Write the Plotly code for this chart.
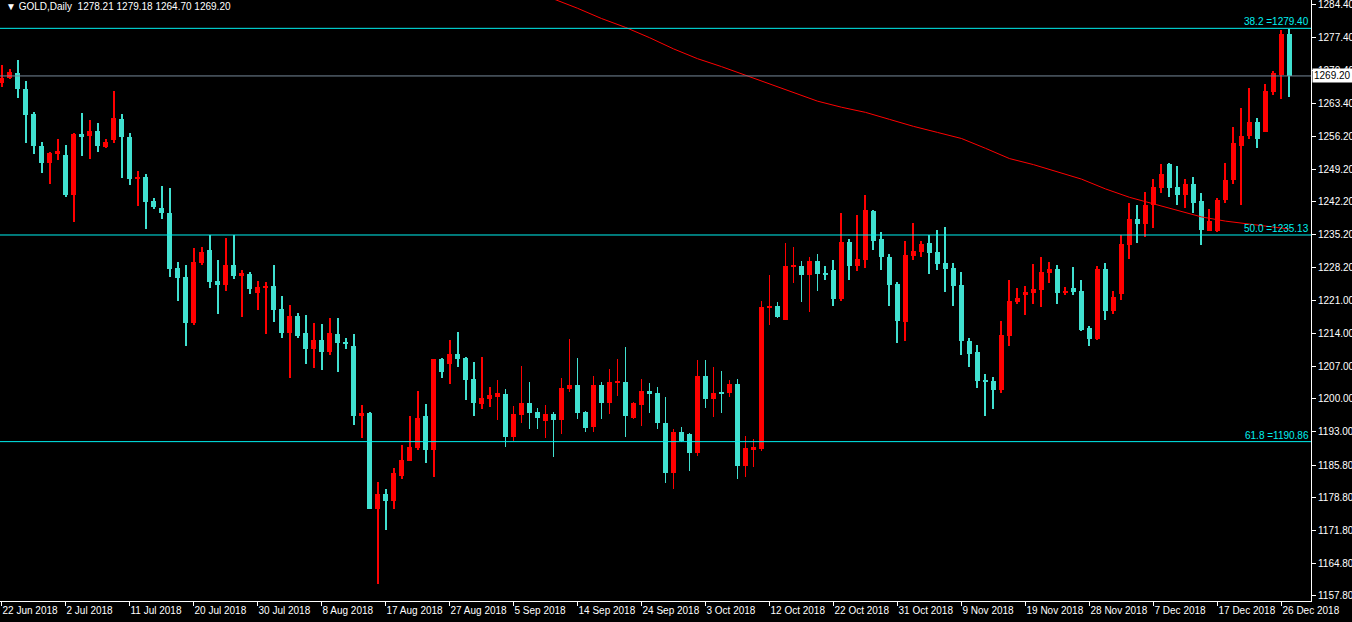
import pandas as pd
import plotly.graph_objects as go

# ---------------- data ----------------
opens = [1267.63, 1268.78, 1269.84, 1266.41, 1261.10, 1254.24, 1250.48, 1252.44, 1252.36, 1243.70,
         1256.69, 1256.28, 1257.51, 1254.07, 1255.46, 1260.04, 1256.20, 1247.13, 1247.62, 1242.31,
         1240.92, 1239.94, 1228.02, 1226.06, 1216.20, 1229.16, 1231.86, 1225.24, 1224.51, 1228.67,
         1226.39, 1226.71, 1222.79, 1223.77, 1224.18, 1219.28, 1214.05, 1217.81, 1214.13, 1210.62,
         1212.66, 1209.97, 1213.97, 1212.25, 1211.36, 1196.33, 1196.90, 1176.48, 1179.58, 1178.11,
         1183.51, 1186.69, 1189.47, 1196.25, 1189.06, 1208.58, 1207.44, 1209.64, 1208.82, 1204.33,
         1199.02, 1200.08, 1200.49, 1201.15, 1191.75, 1196.65, 1199.19, 1197.31, 1195.35, 1196.82,
         1195.59, 1202.21, 1203.03, 1197.31, 1194.04, 1203.03, 1199.19, 1203.51, 1203.68, 1196.00,
         1198.78, 1201.80, 1201.31, 1194.94, 1184.16, 1192.90, 1192.57, 1188.47, 1204.99, 1199.92,
         1201.31, 1201.31, 1203.27, 1185.63, 1189.22, 1189.39, 1219.52, 1219.93, 1216.99, 1228.40,
         1228.43, 1226.63, 1229.49, 1226.96, 1227.61, 1221.49, 1233.58, 1228.43, 1229.73, 1240.19,
         1234.23, 1230.39, 1224.59, 1216.58, 1230.63, 1231.45, 1233.33, 1231.45, 1229.08, 1228.02,
         1224.43, 1212.34, 1210.05, 1204.09, 1203.92, 1201.96, 1213.56, 1220.83, 1222.30, 1222.71,
         1223.36, 1226.96, 1227.77, 1222.71, 1223.77, 1223.12, 1215.20, 1212.91, 1227.77, 1218.87,
         1222.47, 1232.92, 1238.47, 1237.41, 1241.66, 1245.09, 1250.40, 1245.34, 1243.62, 1246.15,
         1242.31, 1235.94, 1235.94, 1242.56, 1246.81, 1254.24, 1256.28, 1259.38, 1257.26, 1265.76,
         1269.35, 1278.21]
highs = [1271.55, 1270.74, 1272.62, 1268.12, 1261.51, 1255.14, 1253.01, 1255.79, 1254.40, 1257.02,
         1261.35, 1259.79, 1259.22, 1255.79, 1266.00, 1261.10, 1257.02, 1248.77, 1248.28, 1242.97,
         1245.66, 1245.09, 1229.33, 1228.67, 1232.27, 1232.51, 1235.04, 1229.73, 1234.39, 1235.21,
         1227.61, 1227.20, 1225.24, 1225.00, 1228.67, 1222.06, 1220.10, 1218.38, 1217.97, 1216.26,
         1216.09, 1217.32, 1217.32, 1213.07, 1213.97, 1198.78, 1197.14, 1182.12, 1180.65, 1185.14,
         1190.04, 1196.41, 1201.80, 1199.02, 1208.58, 1208.70, 1212.66, 1214.38, 1208.99, 1207.93,
         1208.99, 1202.62, 1204.09, 1202.21, 1198.53, 1207.11, 1203.68, 1198.12, 1198.78, 1197.31,
         1204.58, 1212.83, 1208.82, 1197.40, 1204.99, 1203.68, 1206.46, 1208.58, 1211.19, 1199.43,
         1204.33, 1203.43, 1202.62, 1200.49, 1193.63, 1194.04, 1192.70, 1208.42, 1208.42, 1206.86,
         1206.05, 1204.09, 1204.33, 1192.16, 1191.51, 1220.99, 1226.55, 1220.75, 1233.33, 1232.51,
         1229.65, 1230.39, 1231.04, 1228.43, 1229.73, 1239.94, 1234.23, 1239.45, 1243.62, 1240.43,
         1235.70, 1231.04, 1225.00, 1233.82, 1237.66, 1233.82, 1235.04, 1236.11, 1236.76, 1229.08,
         1227.20, 1213.15, 1211.60, 1205.39, 1204.74, 1216.75, 1225.49, 1223.77, 1224.18, 1228.84,
         1230.39, 1229.33, 1228.67, 1223.94, 1228.26, 1225.49, 1215.60, 1228.43, 1229.08, 1223.12,
         1235.04, 1242.07, 1241.66, 1244.44, 1247.05, 1250.24, 1250.64, 1249.83, 1247.05, 1247.46,
         1244.03, 1240.60, 1242.97, 1250.64, 1258.32, 1262.41, 1266.65, 1260.28, 1267.47, 1270.17,
         1279.07, 1279.18]
lows = [1266.82, 1268.45, 1264.37, 1254.81, 1252.44, 1248.36, 1245.99, 1251.30, 1243.37, 1237.90,
        1251.95, 1251.38, 1252.85, 1253.83, 1254.73, 1247.30, 1245.83, 1241.33, 1236.43, 1240.68,
        1238.47, 1226.06, 1221.08, 1211.44, 1215.77, 1228.75, 1223.85, 1218.30, 1223.20, 1225.73,
        1217.65, 1222.55, 1219.03, 1213.97, 1216.58, 1213.07, 1204.41, 1213.07, 1207.44, 1206.54,
        1206.29, 1209.32, 1205.72, 1210.62, 1194.37, 1191.59, 1176.48, 1160.31, 1171.99, 1176.48,
        1182.77, 1186.69, 1189.06, 1186.20, 1183.26, 1204.58, 1203.11, 1206.86, 1199.68, 1196.25,
        1197.80, 1198.21, 1195.59, 1189.71, 1190.93, 1194.94, 1193.47, 1193.63, 1191.59, 1187.67,
        1192.57, 1201.39, 1195.76, 1192.82, 1192.82, 1195.76, 1196.82, 1200.74, 1191.75, 1195.76,
        1194.29, 1197.06, 1193.63, 1181.95, 1180.65, 1190.69, 1184.49, 1187.75, 1198.04, 1196.08,
        1196.90, 1200.33, 1182.85, 1183.26, 1185.38, 1188.81, 1215.93, 1217.24, 1216.99, 1224.92,
        1220.67, 1218.71, 1223.20, 1225.49, 1220.02, 1220.99, 1225.49, 1227.37, 1228.02, 1231.86,
        1227.61, 1220.02, 1212.09, 1212.50, 1229.73, 1230.39, 1226.79, 1227.61, 1222.96, 1220.02,
        1209.32, 1206.78, 1202.45, 1196.41, 1197.80, 1201.31, 1211.44, 1220.34, 1217.97, 1220.34,
        1219.77, 1224.83, 1220.34, 1222.30, 1222.30, 1214.62, 1211.27, 1212.66, 1216.83, 1218.30,
        1221.24, 1229.98, 1233.33, 1234.64, 1236.60, 1244.03, 1243.37, 1241.66, 1241.01, 1239.94,
        1232.92, 1235.94, 1235.70, 1242.07, 1246.15, 1241.66, 1255.79, 1253.83, 1257.26, 1265.18,
        1264.28, 1264.70]
closes = [1268.86, 1270.08, 1266.33, 1260.94, 1254.16, 1250.48, 1252.60, 1253.18, 1243.70, 1256.85,
          1256.28, 1257.51, 1254.16, 1255.14, 1260.28, 1256.04, 1247.13, 1247.62, 1242.15, 1241.09,
          1239.86, 1227.86, 1225.98, 1216.20, 1229.33, 1231.45, 1225.08, 1224.51, 1228.67, 1226.39,
          1226.96, 1223.61, 1223.94, 1224.26, 1219.12, 1214.05, 1217.81, 1213.40, 1210.62, 1212.66,
          1209.97, 1214.13, 1212.09, 1211.68, 1196.33, 1196.90, 1176.48, 1179.58, 1178.11, 1184.24,
          1186.85, 1189.63, 1196.00, 1189.06, 1208.58, 1205.88, 1209.64, 1208.58, 1204.09, 1199.19,
          1200.25, 1200.90, 1201.23, 1191.75, 1196.82, 1199.19, 1197.06, 1196.00, 1196.82, 1195.59,
          1202.37, 1203.03, 1197.06, 1193.88, 1203.03, 1199.19, 1203.68, 1203.68, 1196.25, 1199.19,
          1201.80, 1201.15, 1194.78, 1184.16, 1192.90, 1191.10, 1188.47, 1204.99, 1199.92, 1201.31,
          1201.15, 1203.27, 1185.63, 1189.45, 1189.63, 1219.69, 1219.93, 1217.65, 1228.43, 1228.50,
          1226.63, 1229.49, 1226.79, 1226.71, 1221.49, 1233.58, 1228.43, 1229.98, 1240.43, 1233.82,
          1230.39, 1224.43, 1216.75, 1230.80, 1231.61, 1233.17, 1231.20, 1228.92, 1227.86, 1224.26,
          1212.34, 1209.56, 1203.76, 1203.76, 1201.96, 1213.72, 1220.99, 1221.65, 1222.87, 1223.53,
          1227.20, 1227.77, 1222.71, 1223.12, 1222.87, 1214.79, 1212.91, 1227.77, 1218.87, 1221.81,
          1233.17, 1238.47, 1237.41, 1241.66, 1245.34, 1248.11, 1245.09, 1243.62, 1246.15, 1242.07,
          1236.11, 1238.23, 1242.72, 1246.81, 1254.73, 1256.44, 1259.38, 1255.79, 1266.00, 1269.84,
          1278.21, 1269.20]

# moving average readings (bar index -> value)
ma_index = [68, 69, 72, 75, 78, 81, 84, 87, 90, 93, 96, 99, 102, 105, 108, 111, 114, 117, 120,
            123, 126, 129, 132, 135, 138, 141, 144, 147, 150, 153, 156, 159, 161]
ma_values = [1286.2, 1285.7, 1283.7, 1281.5, 1279.6, 1277.4, 1275.0, 1272.9, 1271.2, 1269.35,
             1267.4, 1265.5, 1263.8, 1262.5, 1261.4, 1259.9, 1258.4, 1257.1, 1255.8, 1253.7,
             1251.5, 1250.2, 1248.6, 1247.1, 1245.0, 1243.2, 1241.8, 1240.4, 1239.0, 1238.1,
             1237.5, 1236.8, 1236.4]

# bar dates (MT4 daily incl. Sunday bars, no Saturdays)
all_days = pd.date_range("2018-06-22", "2018-12-27", freq="D")
bar_days = [d for d in all_days if d.weekday() != 5]
dates = [f"{d.day} {d.strftime('%b %Y')}" for d in bar_days][:len(closes)]

tick_labels = ["22 Jun 2018", "2 Jul 2018", "11 Jul 2018", "20 Jul 2018", "30 Jul 2018",
               "8 Aug 2018", "17 Aug 2018", "27 Aug 2018", "5 Sep 2018", "14 Sep 2018",
               "24 Sep 2018", "3 Oct 2018", "12 Oct 2018", "22 Oct 2018", "31 Oct 2018",
               "9 Nov 2018", "19 Nov 2018", "28 Nov 2018", "7 Dec 2018", "17 Dec 2018",
               "26 Dec 2018"]
tick_positions = [dates[i] for i in range(0, 161, 8)]

price_ticks = [1284.40, 1277.40, 1270.40, 1263.40, 1256.20, 1249.20, 1242.20, 1235.20, 1228.20,
               1221.00, 1214.00, 1207.00, 1200.00, 1193.00, 1185.80, 1178.80, 1171.80, 1164.80,
               1157.80]

fib_levels = [("38.2", 1279.40), ("50.0", 1235.13), ("61.8", 1190.86)]
bid_price = 1269.20
title_text = "GOLD,Daily  1278.21 1279.18 1264.70 1269.20"

# ---------------- styling ----------------
UP = "#FF0000"
DOWN = "#40E0D0"
FIB = "#00F0F0"
FONT = "Liberation Sans, Arial, sans-serif"

colors = [UP if c >= o else DOWN for o, c in zip(opens, closes)]
body_base = [min(o, c) for o, c in zip(opens, closes)]
body_h = [max(abs(c - o), 0.22) for o, c in zip(opens, closes)]
wick_h = [h - l for h, l in zip(highs, lows)]

fig = go.Figure()
fig.add_trace(go.Bar(x=dates, y=wick_h, base=lows, width=0.125,
                     marker=dict(color=colors, line=dict(width=0)),
                     hoverinfo="skip", showlegend=False))
fig.add_trace(go.Bar(x=dates, y=body_h, base=body_base, width=0.625,
                     marker=dict(color=colors, line=dict(width=0)),
                     customdata=list(zip(opens, highs, lows, closes)),
                     hovertemplate="O %{customdata[0]}<br>H %{customdata[1]}<br>L %{customdata[2]}<br>C %{customdata[3]}<extra></extra>",
                     showlegend=False))
fig.add_trace(go.Scatter(x=[dates[i] for i in ma_index], y=ma_values, mode="lines",
                         line=dict(color="#FF0000", width=1), hoverinfo="skip",
                         showlegend=False))

shapes = []
annotations = []
for name, lvl in fib_levels:
    shapes.append(dict(type="line", xref="paper", x0=0, x1=1, yref="y", y0=lvl, y1=lvl,
                       line=dict(color=FIB, width=1)))
    annotations.append(dict(xref="paper", x=1, xanchor="right", yref="y", y=lvl,
                            yanchor="bottom", yshift=-1, showarrow=False,
                            text=f"{name} ={lvl:.2f}", font=dict(color=FIB, size=10, family=FONT)))
shapes.append(dict(type="line", xref="paper", x0=0, x1=1, yref="y", y0=bid_price, y1=bid_price,
                   line=dict(color="#778899", width=1)))
annotations.append(dict(xref="paper", x=1, xanchor="left", xshift=1, yref="y", y=bid_price,
                        yanchor="middle", showarrow=False, text=f"{bid_price:.2f}",
                        bgcolor="#FFFFFF", borderpad=1,
                        font=dict(color="#000000", size=10, family=FONT)))
annotations.append(dict(xref="paper", x=0, xanchor="left", xshift=4, yref="paper", y=1,
                        yanchor="top", yshift=1, showarrow=False,
                        text="\u25BC " + title_text,
                        font=dict(color="#FFFFFF", size=10, family=FONT)))

fig.update_layout(
    width=1352, height=622,
    margin=dict(l=0, r=41, t=0, b=21, autoexpand=False),
    paper_bgcolor="#000000", plot_bgcolor="#000000",
    barmode="overlay", bargap=0,
    shapes=shapes, annotations=annotations,
    showlegend=False,
    xaxis=dict(type="category", range=[-0.19, 163.69], showgrid=False, zeroline=False,
               showline=True, linecolor="#FFFFFF", linewidth=1, automargin=False,
               ticks="outside", ticklen=4, tickcolor="#FFFFFF", tickangle=0,
               tickvals=tick_positions, ticktext=tick_labels,
               ticklabelposition="outside right", ticklabeloverflow="allow",
               tickfont=dict(color="#FFFFFF", size=10, family=FONT), fixedrange=True),
    yaxis=dict(side="right", range=[1156.72, 1285.47], showgrid=False, zeroline=False,
               showline=True, linecolor="#FFFFFF", linewidth=1, automargin=False,
               ticks="outside", ticklen=4, tickcolor="#FFFFFF",
               tickvals=price_ticks, ticktext=[f"{v:.2f}" for v in price_ticks],
               ticklabeloverflow="allow",
               tickfont=dict(color="#FFFFFF", size=10, family=FONT), fixedrange=True),
)

fig.write_html("out.html", config={"displayModeBar": False},
               post_script="document.body.style.margin='0';document.body.style.background='#000';")
